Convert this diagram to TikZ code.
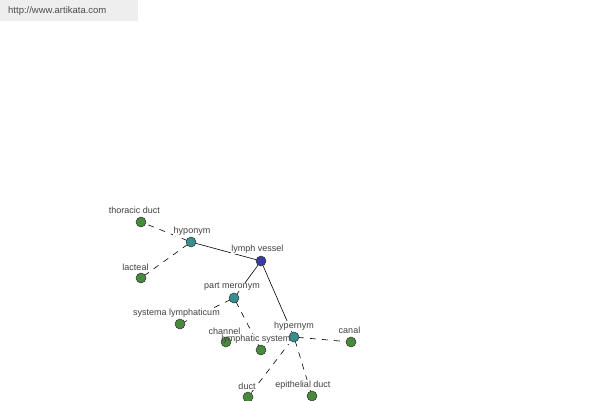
\documentclass[tikz,border=0pt]{standalone}
\usepackage{fontspec}
\setmainfont{Liberation Sans}
\begin{document}
\begin{tikzpicture}[x=1pt,y=-1pt,
  vtx/.style={circle,draw=black!80,line width=0.5pt,minimum size=10pt,inner sep=0pt},
  root/.style={vtx,fill=rootc},
  rel/.style={vtx,fill=relc},
  leaf/.style={vtx,fill=leafc},
  solidedge/.style={draw=black,line width=0.6pt},
  dashedge/.style={draw=black,line width=0.6pt,dash pattern=on 6pt off 6pt,shorten <=4pt,shorten >=4pt},
  lblbg/.style={fill=white,inner sep=0.6pt,font=\fontsize{9}{10}\selectfont,text=white},
  lbltx/.style={inner sep=0.6pt,font=\fontsize{9}{10}\selectfont,text=black!75}]
\definecolor{rootc}{RGB}{58,60,158}
\definecolor{relc}{RGB}{56,142,142}
\definecolor{leafc}{RGB}{72,138,60}
\definecolor{hdr}{RGB}{238,238,238}
\useasboundingbox (0,0) rectangle (600,400);
\fill[hdr] (0,0) rectangle (138,21);
\node[anchor=west,inner sep=0pt,font=\fontsize{9.5}{10}\selectfont,text=black!70] (url) at (8,11) {http://www.artikata.com};
% vertex coordinates
\coordinate (lv) at (261,261);
\coordinate (hypo) at (191,242);
\coordinate (td) at (141,222);
\coordinate (lac) at (141,278);
\coordinate (pm) at (234,298);
\coordinate (sl) at (180,324);
\coordinate (ch) at (226,342);
\coordinate (ls) at (261,350);
\coordinate (hyper) at (294,337);
\coordinate (can) at (351,342);
\coordinate (du) at (248,397);
\coordinate (ed) at (312,396);
% edges
\draw[solidedge] (lv) -- (hypo);
\draw[solidedge] (lv) -- (pm);
\draw[solidedge] (lv) -- (hyper);
\draw[dashedge] (hypo) -- (td);
\draw[dashedge] (hypo) -- (lac);
\draw[dashedge] (pm) -- (sl);
\draw[dashedge] (pm) -- (ls);
\draw[dashedge] (hyper) -- (ch);
\draw[dashedge] (hyper) -- (can);
\draw[dashedge] (hyper) -- (du);
\draw[dashedge] (hyper) -- (ed);
% label backgrounds
\foreach \n/\x/\y/\t in {td/134.5/210/thoracic duct, hypo/192/231/hyponym, lv/257.5/249/lymph vessel,
  lac/135.5/267/lacteal, pm/232/287/part meronym, sl/176.5/313/systema lymphaticum,
  ch/224.5/331/channel, ls/256/339/lymphatic system, hyper/294/326/hypernym,
  can/349.5/330/canal, du/247/386/duct, ed/303/385/epithelial duct}
  \node[lblbg] (bg\n) at (\x,\y) {\t};
% vertices
\node[root] (nlv) at (lv) {};
\node[rel] (nhypo) at (hypo) {};
\node[rel] (npm) at (pm) {};
\node[rel] (nhyper) at (hyper) {};
\node[leaf] (ntd) at (td) {};
\node[leaf] (nlac) at (lac) {};
\node[leaf] (nsl) at (sl) {};
\node[leaf] (nch) at (ch) {};
\node[leaf] (nls) at (ls) {};
\node[leaf] (ncan) at (can) {};
\node[leaf] (ndu) at (du) {};
\node[leaf] (ned) at (ed) {};
% label texts
\foreach \n/\x/\y/\t in {td/134.5/210/thoracic duct, hypo/192/231/hyponym, lv/257.5/249/lymph vessel,
  lac/135.5/267/lacteal, pm/232/287/part meronym, sl/176.5/313/systema lymphaticum,
  ch/224.5/331/channel, ls/256/339/lymphatic system, hyper/294/326/hypernym,
  can/349.5/330/canal, du/247/386/duct, ed/303/385/epithelial duct}
  \node[lbltx] (l\n) at (\x,\y) {\t};
\end{tikzpicture}
\end{document}
